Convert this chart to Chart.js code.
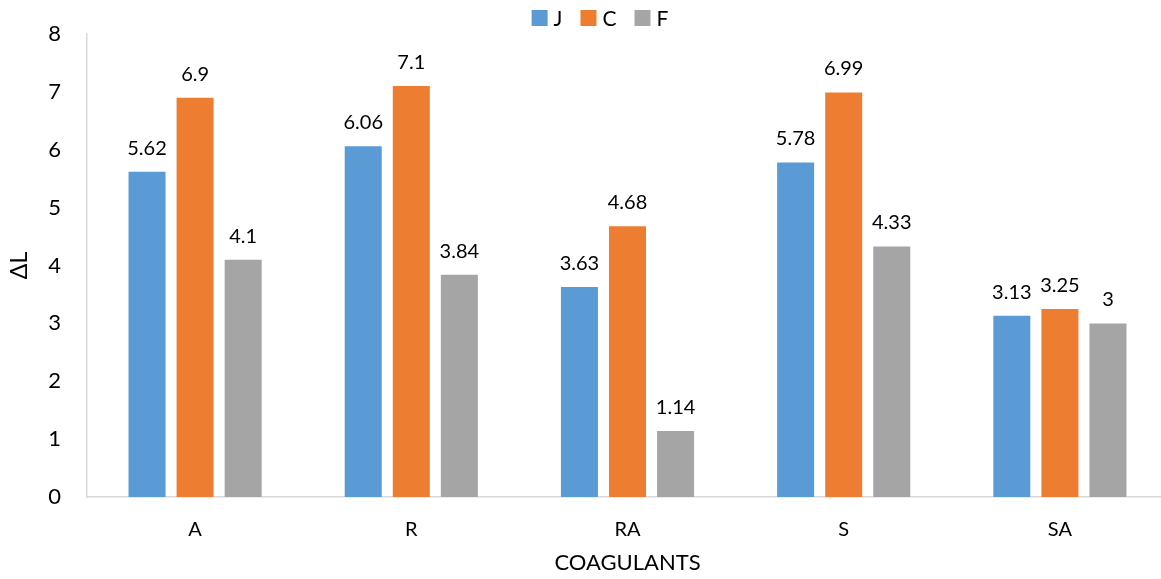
<!DOCTYPE html>
<html>
<head>
<meta charset="utf-8">
<script src="https://cdn.jsdelivr.net/npm/chart.js@4/dist/chart.umd.min.js"></script>
<style>
  html, body { margin: 0; padding: 0; background: #fff; overflow: hidden; }
  #wrap { position: relative; width: 1168px; height: 579px; }
</style>
</head>
<body>
<div id="wrap"><canvas id="chart"></canvas></div>
<script>
// Coagulant categories on the x axis
const categories = ['A', 'R', 'RA', 'S', 'SA'];

// ΔL per coagulant for each series
const seriesJ = [5.62, 6.06, 3.63, 5.78, 3.13];
const seriesC = [6.9, 7.1, 4.68, 6.99, 3.25];
const seriesF = [4.1, 3.84, 1.14, 4.33, 3];

const seriesNames = ['J', 'C', 'F'];
const yTicks = [0, 1, 2, 3, 4, 5, 6, 7, 8];

const FONT = 'Lato, "Open Sans", sans-serif';

// Writes each bar's value just above it
const valueLabels = {
  id: 'valueLabels',
  afterDatasetsDraw(chart) {
    const ctx = chart.ctx;
    ctx.save();
    ctx.font = '20px ' + FONT;
    ctx.fillStyle = '#000';
    ctx.textAlign = 'center';
    ctx.textBaseline = 'alphabetic';
    chart.data.datasets.forEach((ds, i) => {
      const meta = chart.getDatasetMeta(i);
      meta.data.forEach((bar, j) => {
        ctx.fillText(String(ds.data[j]), bar.x, bar.y - 17);
      });
    });
    ctx.restore();
  }
};

// Compact legend row centred above the plot
const topLegend = {
  id: 'topLegend',
  afterDraw(chart) {
    const ctx = chart.ctx;
    const box = 16, gap = 6, spacing = 18, midY = 18, centerX = 600;
    ctx.save();
    ctx.font = '21px ' + FONT;
    ctx.textBaseline = 'middle';
    ctx.textAlign = 'left';
    const items = chart.data.datasets.map(ds => ({
      text: ds.label, color: ds.backgroundColor, w: ctx.measureText(ds.label).width
    }));
    const total = items.reduce((s, it) => s + box + gap + it.w, 0) + spacing * (items.length - 1);
    let x = centerX - total / 2;
    items.forEach(it => {
      ctx.fillStyle = it.color;
      ctx.fillRect(x, midY - box / 2, box, box);
      ctx.fillStyle = '#000';
      ctx.fillText(it.text, x + box + gap, midY + 1);
      x += box + gap + it.w + spacing;
    });
    ctx.restore();
  }
};

new Chart(document.getElementById('chart'), {
  type: 'bar',
  data: {
    labels: categories,
    datasets: [
      { label: seriesNames[0], data: seriesJ, backgroundColor: '#5B9BD5' },
      { label: seriesNames[1], data: seriesC, backgroundColor: '#ED7D31' },
      { label: seriesNames[2], data: seriesF, backgroundColor: '#A5A5A5' }
    ]
  },
  options: {
    responsive: true,
    maintainAspectRatio: false,
    animation: false,
    layout: { padding: { top: 34, right: 0, bottom: 0, left: 0 } },
    datasets: {
      bar: { barPercentage: 0.77, categoryPercentage: 0.667 }
    },
    plugins: {
      legend: { display: false },
      tooltip: { enabled: false }
    },
    scales: {
      x: {
        grid: { display: false, drawTicks: false },
        border: { display: true, color: '#D9D9D9', width: 1.5 },
        ticks: { color: '#000', font: { family: FONT, size: 20 }, padding: 21 },
        title: {
          display: true,
          text: 'COAGULANTS',
          color: '#000',
          font: { family: FONT, size: 22 },
          padding: { top: 0, bottom: 3 }
        },
        afterFit(scale) { scale.height = 82; }
      },
      y: {
        min: 0,
        max: 8,
        grid: { display: false, drawTicks: false },
        border: { display: true, color: '#D9D9D9', width: 1.5 },
        afterBuildTicks(scale) { scale.ticks = yTicks.map(v => ({ value: v })); },
        ticks: { color: '#000', font: { family: FONT, size: 22 }, padding: 26 },
        title: {
          display: true,
          text: 'ΔL',
          color: '#000',
          font: { family: FONT, size: 23 },
          padding: { top: 6, bottom: 0 }
        },
        afterFit(scale) {
          scale.width = 87;
          // the label gap is horizontal only; keep the vertical reserve to half a label
          scale.paddingTop = 13;
          scale.paddingBottom = 13;
        }
      }
    }
  },
  plugins: [valueLabels, topLegend]
});
</script>
</body>
</html>
